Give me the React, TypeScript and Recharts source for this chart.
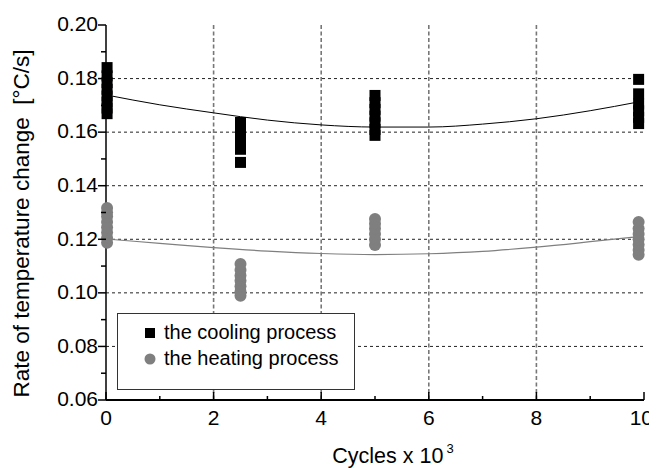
import React from 'react';
import { ComposedChart, Scatter, Line, XAxis, YAxis, CartesianGrid, Label } from 'recharts';

const FONT = '"Liberation Sans", Arial, sans-serif';

// cycle positions (x 10^3) where measurements were taken
const cyclePositions = [0.02, 2.5, 5, 9.9];

// the cooling process: rates [°C/s] measured at each cycle position
const coolingAt0 = [0.1669, 0.169, 0.1712, 0.1735, 0.176, 0.1785, 0.181, 0.1841];
const coolingAt2500 = [0.1487, 0.1536, 0.156, 0.1585, 0.161, 0.1636];
const coolingAt5000 = [0.1588, 0.161, 0.1635, 0.166, 0.1685, 0.171, 0.1737];
const coolingAt9900 = [0.1632, 0.1655, 0.168, 0.1705, 0.1743, 0.1797];

// the heating process
const heatingAt0 = [0.1187, 0.1205, 0.1225, 0.1245, 0.1265, 0.1285, 0.13, 0.1317];
const heatingAt2500 = [0.0989, 0.1005, 0.1025, 0.1045, 0.1065, 0.1085, 0.1108];
const heatingAt5000 = [0.1179, 0.12, 0.122, 0.124, 0.1258, 0.1276];
const heatingAt9900 = [0.1142, 0.116, 0.118, 0.12, 0.122, 0.124, 0.1265];

// fitted trend curves
const fitX = [0, 1, 2, 3, 4, 5, 6, 7, 8, 9, 9.9];
const coolingFit = [0.1739, 0.1702, 0.1672, 0.1645, 0.1627, 0.1619, 0.1619, 0.163, 0.165, 0.168, 0.1713];
const heatingFit = [0.1201, 0.1185, 0.1169, 0.1156, 0.1147, 0.1143, 0.1146, 0.1155, 0.1171, 0.1191, 0.121];

const xTicks = [0, 1, 2, 3, 4, 5, 6, 7, 8, 9, 10];
const yTicks = [0.06, 0.07, 0.08, 0.09, 0.1, 0.11, 0.12, 0.13, 0.14, 0.15, 0.16, 0.17, 0.18, 0.19, 0.2];
const gridY = [0.08, 0.1, 0.12, 0.14, 0.16, 0.18];
const gridX = [2, 4, 6, 8];

const seriesNames = ['the cooling process', 'the heating process'];
const seriesColors = ['#000000', '#7f7f7f'];

const coolingSets = [coolingAt0, coolingAt2500, coolingAt5000, coolingAt9900];
const heatingSets = [heatingAt0, heatingAt2500, heatingAt5000, heatingAt9900];

const coolingPoints = cyclePositions.flatMap((x, i) => coolingSets[i].map((y) => ({ x, y })));
const heatingPoints = cyclePositions.flatMap((x, i) => heatingSets[i].map((y) => ({ x, y })));
const coolingCurve = fitX.map((x, i) => ({ x, y: coolingFit[i] }));
const heatingCurve = fitX.map((x, i) => ({ x, y: heatingFit[i] }));

const SquareShape = (props: any) => {
  const { cx, cy } = props;
  return <rect x={cx - 5.5} y={cy - 5.5} width={11} height={11} fill={seriesColors[0]} />;
};
const CircleShape = (props: any) => {
  const { cx, cy } = props;
  return <circle cx={cx} cy={cy} r={6} fill={seriesColors[1]} />;
};

const YTick = (props: any) => {
  const { x, y, payload } = props;
  const v = payload.value as number;
  const major = Math.round(v * 100) % 2 === 0;
  return (
    <g>
      <line x1={x - (major ? 8 : 5)} x2={x} y1={y} y2={y} stroke="#000" strokeWidth={1.5} />
      {major && (
        <text x={x - 8} y={y} dy="0.3em" textAnchor="end" fontSize={21} fontFamily={FONT} fill="#000">
          {v.toFixed(2)}
        </text>
      )}
    </g>
  );
};

const XTick = (props: any) => {
  const { x, y, payload } = props;
  const v = payload.value as number;
  const major = Math.round(v) % 2 === 0;
  const last = Math.round(v) === 10;
  return (
    <g>
      <line x1={x} x2={x} y1={y} y2={y - (major ? 8 : 4)} stroke="#000" strokeWidth={1.5} />
      {major && (
        <text
          x={last ? x + 9 : x}
          y={y + 25}
          textAnchor={last ? 'end' : 'middle'}
          fontSize={21}
          fontFamily={FONT}
          fill="#000"
        >
          {String(v)}
        </text>
      )}
    </g>
  );
};

const renderYLabel = (props: any) => {
  const vb = props.viewBox;
  const cx = vb.x + 21;
  const cy = vb.y + vb.height / 2 + 11;
  return (
    <text
      x={cx}
      y={cy}
      textAnchor="middle"
      transform={`rotate(-90, ${cx}, ${cy})`}
      fontSize={22.5}
      fontFamily={FONT}
      fill="#000"
    >
      {'Rate of temperature change\u00A0\u00A0[°C/s]'}
    </text>
  );
};

const renderXLabel = (props: any) => {
  const vb = props.viewBox;
  const cx = vb.x + vb.width / 2 + 18;
  const by = vb.y + 63;
  return (
    <text x={cx} y={by} textAnchor="middle" fontSize={21.5} fontFamily={FONT} fill="#000">
      <tspan>Cycles x 10</tspan>
      <tspan dx={3} dy={-10} fontSize={13}>3</tspan>
    </text>
  );
};

const LegendBox = () => (
  <div
    style={{
      position: 'absolute',
      left: 109,
      top: 305,
      width: 236,
      height: 75,
      border: '1px solid #333',
      background: '#fff',
    }}
  >
    <svg width={236} height={75}>
      <rect x={32 - 5} y={19 - 5} width={10} height={10} fill={seriesColors[0]} />
      <text x={46} y={25} fontSize={20} fontFamily={FONT} fill="#000">{seriesNames[0]}</text>
      <circle cx={32} cy={45} r={5.5} fill={seriesColors[1]} />
      <text x={46} y={51} fontSize={20} fontFamily={FONT} fill="#000">{seriesNames[1]}</text>
    </svg>
  </div>
);

export default function App() {
  return (
    <div style={{ position: 'relative', width: 649, height: 460 }}>
      <ComposedChart
        width={649}
        height={460}
        margin={{ top: 17, right: 13, left: 0, bottom: 0 }}
        style={{ overflow: 'visible' }}
      >
        <CartesianGrid
          vertical={false}
          horizontalValues={gridY}
          stroke="#222"
          strokeWidth={1}
          strokeDasharray="3 3"
        />
        <CartesianGrid
          horizontal={false}
          verticalValues={gridX}
          stroke="#777"
          strokeWidth={1.6}
          strokeDasharray="4 2.5"
        />
        <XAxis
          type="number"
          dataKey="x"
          domain={[0, 10]}
          ticks={xTicks}
          interval={0}
          height={68}
          tickSize={0}
          tickMargin={0}
          tickLine={false}
          tick={<XTick />}
          axisLine={{ stroke: '#000', strokeWidth: 2 }}
        >
          <Label content={renderXLabel} />
        </XAxis>
        <YAxis
          type="number"
          dataKey="y"
          domain={[0.06, 0.2]}
          ticks={yTicks}
          interval={0}
          width={98}
          tickSize={0}
          tickMargin={0}
          tickLine={false}
          tick={<YTick />}
          axisLine={{ stroke: '#000', strokeWidth: 1.5 }}
        >
          <Label content={renderYLabel} />
        </YAxis>
        <Line
          data={coolingCurve}
          dataKey="y"
          type="monotone"
          stroke={seriesColors[0]}
          strokeWidth={1}
          dot={false}
          activeDot={false}
          isAnimationActive={false}
        />
        <Line
          data={heatingCurve}
          dataKey="y"
          type="monotone"
          stroke={seriesColors[1]}
          strokeWidth={1.2}
          dot={false}
          activeDot={false}
          isAnimationActive={false}
        />
        <Scatter data={coolingPoints} dataKey="y" shape={<SquareShape />} isAnimationActive={false} />
        <Scatter data={heatingPoints} dataKey="y" shape={<CircleShape />} isAnimationActive={false} />
      </ComposedChart>
      <LegendBox />
    </div>
  );
}
